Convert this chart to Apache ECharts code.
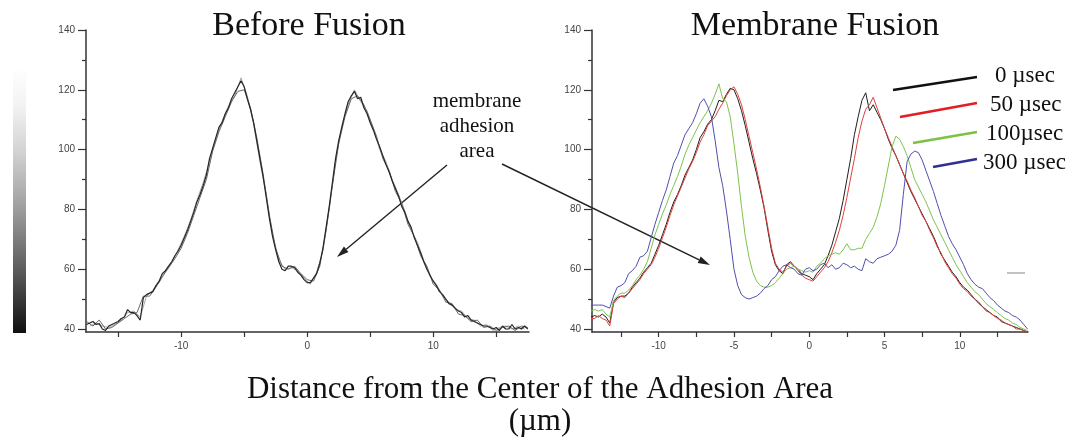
<!DOCTYPE html>
<html><head><meta charset="utf-8">
<script src="https://cdn.jsdelivr.net/npm/echarts@6/dist/echarts.min.js"></script>
<style>html,body{margin:0;padding:0;background:#fff}#c{width:1077px;height:438px}</style>
</head><body><div id="c"></div>
<script>
// ---------- DATA ----------
const titles = ['Before Fusion', 'Membrane Fusion'];
const axisTitle = 'Distance from the Center of the Adhesion Area';
const axisUnit = '(µm)';
const annotation = ['membrane', 'adhesion', 'area'];
const legendLabels = ['0 µsec', '50 µsec', '100µsec', '300 µsec'];

const yMajor = [40, 60, 80, 100, 120, 140];
const yMinor = [50, 70, 90, 110, 130];
const leftXTicks = [-15, -10, -5, 0, 5, 10, 15];
const leftXLabels = [-10, 0, 10];
const rightXTicks = [-12.5, -10, -7.5, -5, -2.5, 0, 2.5, 5, 7.5, 10, 12.5];
const rightXLabels = [-10, -5, 0, 5, 10];

// Before fusion: overlaid intensity traces
const xLeft = [-17.5,-17.25,-17,-16.75,-16.5,-16.25,-16,-15.75,-15.5,-15.25,-15,-14.75,-14.5,-14.25,-14,-13.75,-13.5,-13.25,-13,-12.75,-12.5,-12.25,-12,-11.75,-11.5,-11.25,-11,-10.75,-10.5,-10.25,-10,-9.75,-9.5,-9.25,-9,-8.75,-8.5,-8.25,-8,-7.75,-7.5,-7.25,-7,-6.75,-6.5,-6.25,-6,-5.75,-5.5,-5.25,-5,-4.75,-4.5,-4.25,-4,-3.75,-3.5,-3.25,-3,-2.75,-2.5,-2.25,-2,-1.75,-1.5,-1.25,-1,-0.75,-0.5,-0.25,0,0.25,0.5,0.75,1,1.25,1.5,1.75,2,2.25,2.5,2.75,3,3.25,3.5,3.75,4,4.25,4.5,4.75,5,5.25,5.5,5.75,6,6.25,6.5,6.75,7,7.25,7.5,7.75,8,8.25,8.5,8.75,9,9.25,9.5,9.75,10,10.25,10.5,10.75,11,11.25,11.5,11.75,12,12.25,12.5,12.75,13,13.25,13.5,13.75,14,14.25,14.5,14.75,15,15.25,15.5,15.75,16,16.25,16.5,16.75,17,17.25,17.5];
const beforeA = [41.5,42,42.5,41.5,41.8,40,39.5,41,41.5,42,
  42.5,43.5,44,46.5,45.5,45.5,44.5,43,50.5,51.5,
  52,52.5,54.5,56,58.5,59.5,61,62.5,64.5,66,
  68,70.5,73,76,79,82.5,85,88,91.5,97,
  100.5,104,107.5,109,112,114,117,119,121,123,
  121,117,113.5,109,103,97,91,84,77,71,
  66.5,62.5,60,59.5,61,61,60.5,59,58,56.5,
  55.5,55.5,57,58.5,62,67,74,81,89,97,
  103,107.5,112,116,118,119.5,117,117.5,114,112,
  109,106.5,103.5,101,98,95,92.5,89.5,87,84.5,
  81,79,76,74,70.5,68,65.5,62.5,60,58,
  56,54.5,52.5,51.5,50,48.5,48,47,46,45.5,
  44,44.5,43,42.5,42,41.5,41,41,40.5,40,
  40.5,39.5,41,40,40,41.5,40,40.5,40,41,40];

const xLeftB = [-17.5,-17,-16.5,-16,-15.5,-15,-14.5,-14,-13.5,-13,-12.5,-12,-11.5,-11,-10.5,-10,-9.5,-9,-8.5,-8,-7.5,-7,-6.5,-6,-5.5,-5,-4.5,-4,-3.5,-3,-2.5,-2,-1.5,-1,-0.5,0,0.5,1,1.5,2,2.5,3,3.5,4,4.5,5,5.5,6,6.5,7,7.5,8,8.5,9,9.5,10,10.5,11,11.5,12,12.5,13,13.5,14,14.5,15,15.5,16,16.5,17,17.5];
const beforeB = [42.5,41,43,40,40.5,42,43.5,45,45.5,51,
  51,54,57.5,60.5,63.5,67,72,78,84,90,
  99.5,106,111,116,119.5,120,114,104,92,78,
  67,61,60,61,58.5,56.5,56,61,73,88,
  102,111,117,118,115,110,104.5,97,93,86,
  82,75,71,64.5,61,55,53,49,48.5,45,
  44.5,42.5,43,40.5,41,39.5,40.5,41,39.5,41,40.5];

const xLeftC = [-17.25,-16.75,-16.25,-15.75,-15.25,-14.75,-14.25,-13.75,-13.25,-12.75,-12.25,-11.75,-11.25,-10.75,-10.25,-9.75,-9.25,-8.75,-8.25,-7.75,-7.25,-6.75,-6.25,-5.75,-5.25,-4.75,-4.25,-3.75,-3.25,-2.75,-2.25,-1.75,-1.25,-0.75,-0.25,0.25,0.75,1.25,1.75,2.25,2.75,3.25,3.75,4.25,4.75,5.25,5.75,6.25,6.75,7.25,7.75,8.25,8.75,9.25,9.75,10.25,10.75,11.25,11.75,12.25,12.75,13.25,13.75,14.25,14.75,15.25,15.75,16.25,16.75,17.25];
const beforeC = [41,42,41,40.5,41.5,43,45.5,46,44,51,
  53,55.5,59,62,66.5,71,76.5,83,89,96,
  103.5,109.5,114.5,118,124,118,108.5,96,85,71.5,
  63,60,60.5,59.5,57,55,59,66,80,96,
  108,115,120,116,113,107,100,96,90,85,
  79.5,73,69,63,57.5,55,51,49,46.5,46,
  43.5,43,41,41.5,39.5,40.5,41,40,41,40];

// Membrane fusion: traces at 0, 50, 100, 300 µsec
const xRight = [-14.5,-14.25,-14,-13.75,-13.5,-13.25,-13,-12.75,-12.5,-12.25,-12,-11.75,-11.5,-11.25,-11,-10.75,-10.5,-10.25,-10,-9.75,-9.5,-9.25,-9,-8.75,-8.5,-8.25,-8,-7.75,-7.5,-7.25,-7,-6.75,-6.5,-6.25,-6,-5.75,-5.5,-5.25,-5,-4.75,-4.5,-4.25,-4,-3.75,-3.5,-3.25,-3,-2.75,-2.5,-2.25,-2,-1.75,-1.5,-1.25,-1,-0.75,-0.5,-0.25,0,0.25,0.5,0.75,1,1.25,1.5,1.75,2,2.25,2.5,2.75,3,3.25,3.5,3.75,4,4.25,4.5,4.75,5,5.25,5.5,5.75,6,6.25,6.5,6.75,7,7.25,7.5,7.75,8,8.25,8.5,8.75,9,9.25,9.5,9.75,10,10.25,10.5,10.75,11,11.25,11.5,11.75,12,12.25,12.5,12.75,13,13.25,13.5,13.75,14,14.25,14.5];
const fusion0 = [44,44.5,44,45,44,42,49,50.5,51,51,
  52,54,55.5,57,59,60.5,62,65,68,71.5,
  75,79,82.5,85,88,91.5,94,96.5,100,104,
  106,108.5,110,113,116.5,116,118.5,120.5,120,117,
  113,108,102.5,97,92,86.5,80.5,73,66,61.5,
  59.5,58.5,61.5,62.5,61,60,58.5,58,57.5,56.5,
  58.5,60,61.5,64.5,68,72.5,77,83,90,97,
  105,111,116.5,119,113,115,112.5,110,107,103.5,
  100.5,98,95,92,89,86,83.5,81,78.5,76,
  73.5,71,68,65,63,61,59,57.5,55.5,54,
  53,51.5,50,49,47.5,46.5,45.5,44.5,44,42.5,
  42,41.5,41,40.5,40,39.5,39];
const fusion50 = [43.5,43.5,44.5,43.5,43,41,48.5,50,51,50.5,
  52,53.5,55,56.5,58.5,60,61.5,64,67,70.5,
  74,78,81.5,84.5,87.5,90.5,93.5,96,99,102.5,
  105,108,109.5,111,113.5,115.5,118,120,121,118.5,
  115,110,104.5,99,93.5,87.5,81,74,67,62,
  60,59,61,62,61,59.5,58,57,56.5,56,
  57.5,59,60.5,62.5,65.5,69,73,78,84,90.5,
  97,104,109.5,113.5,115,117.5,114,110.5,107,104,
  101,98,95,92,89.5,86.5,84,81,78,76,
  73,70.5,67.5,65.5,62.5,60.5,58.5,57,55,53.5,
  52.5,51,50,48.5,47.5,46,45.5,44.5,43.5,43,
  42,41.5,41,40,40,39.5,39];
const fusion100 = [46,46.5,46,46.5,45,44,49.5,51,52,52,
  53,54.5,56.5,58,60,62.5,67,71.5,75,78.5,
  81.5,85,88,91,94.5,98.5,101.5,104,106.5,109,
  111,113,115.5,118.5,122,117,116,111,102,92,
  81,71,64,59,56,54.5,54,54,54.5,55.5,
  57,58.5,60,60.5,61,60,59.5,59,59.5,59,
  61,62,63.5,64.5,65,65.5,65,66.5,68.5,66.5,
  66.5,67,67,70,72,74,77.5,82,88,94.5,
  101,104.5,103.5,101,98,94,90,87.5,85,82.5,
  79.5,76.5,74,71.5,69,66.5,64,61.5,59.5,57.5,
  55.5,54,52.5,51.5,50,48.5,47.5,46.5,45.5,44.5,
  43.5,43,42,41.5,40.5,40,39.5];
const fusion300 = [48,48,48,48,47.5,47,51,54,54.5,55.5,
  58.5,59.5,61,64,64.5,66,70.5,75,79,83,
  86.5,91,95.5,98,101.5,105,107,109,112,115.5,
  117,114.5,111,103,94,88,79.5,70,60,54.5,
  51.5,50.5,50,50.5,51,52,53.5,54.5,56.5,57.5,
  59.5,61,61.5,60.5,60,58.5,58,60,60.5,59.5,
  60,61.5,62,60.5,61.5,60,60.5,62,61.5,60.5,
  61,60,59.5,63.5,62.5,62,63.5,64,64.5,65,
  66,68,73,85,96,98.5,99.5,99,96.5,93,
  89.5,86,82,78,74.5,71,68.5,66.5,64,61.5,
  58.5,56.5,55,54,53.5,52,50.5,49.5,48,47,
  46,45.5,44.5,44,43,41.5,40];

// ---------- CHART ----------
const pairs = (xs, ys) => xs.map((x, i) => [x, ys[i]]);
const AX = '#333';
const labelFont = { fontSize: 10, color: '#444', fontFamily: '"Liberation Sans", Arial, sans-serif' };

function xAxis(grid, min, max, ticks, labels) {
  return {
    type: 'value', gridIndex: grid, min, max, position: 'bottom',
    axisLine: { onZero: false, lineStyle: { color: AX, width: 1.5 } },
    axisTick: { show: true, inside: false, length: 5, customValues: ticks, lineStyle: { color: AX, width: 1.2 } },
    axisLabel: Object.assign({ customValues: labels, margin: 9 }, labelFont),
    splitLine: { show: false }
  };
}
function yAxisMajor(grid) {
  return {
    type: 'value', gridIndex: grid, min: 39, max: 140, position: 'left',
    axisLine: { onZero: false, lineStyle: { color: AX, width: 1.5 } },
    axisTick: { show: true, inside: false, length: 8, customValues: yMajor, lineStyle: { color: AX, width: 1.2 } },
    axisLabel: Object.assign({ customValues: yMajor, margin: 11 }, labelFont),
    splitLine: { show: false }
  };
}
function yAxisMinor(grid) {
  return {
    type: 'value', gridIndex: grid, min: 39, max: 140, position: 'left', offset: 0,
    axisLine: { show: false, onZero: false },
    axisTick: { show: true, inside: false, length: 4, customValues: yMinor, lineStyle: { color: AX, width: 1.2 } },
    axisLabel: { show: false },
    splitLine: { show: false }
  };
}
function line(name, xs, ys, xi, yi, color, width) {
  return { name, type: 'line', xAxisIndex: xi, yAxisIndex: yi, data: pairs(xs, ys),
    symbol: 'none', clip: true, lineStyle: { color, width }, itemStyle: { color }, silent: true };
}

const serif = '"Liberation Serif", "Times New Roman", serif';
function txt(text, x, y, size, align) {
  return { type: 'text', silent: true, style: { text, x, y, fill: '#111', font: size + 'px ' + serif,
    textAlign: align || 'center', textVerticalAlign: 'middle', align: align || 'center', verticalAlign: 'middle' } };
}
function arrow(x1, y1, x2, y2) {
  const dx = x2 - x1, dy = y2 - y1, L = Math.hypot(dx, dy), ux = dx / L, uy = dy / L;
  const hl = 12, hw = 3.5, bx = x2 - ux * hl, by = y2 - uy * hl;
  return [
    { type: 'line', silent: true, shape: { x1, y1, x2: bx, y2: by }, style: { stroke: '#222', lineWidth: 1.4 } },
    { type: 'polygon', silent: true, shape: { points: [[x2, y2], [bx - uy * hw, by + ux * hw], [bx + uy * hw, by - ux * hw]] }, style: { fill: '#222' } }
  ];
}
function legLine(x1, y1, x2, y2, color) {
  return { type: 'line', silent: true, shape: { x1, y1, x2, y2 }, style: { stroke: color, lineWidth: 2.6 } };
}

const fusionColors = ['#1e1e1e', '#e2403a', '#7ec24c', '#4f4fae'];
const legendColors = ['#111111', '#e51c23', '#7cc242', '#2e3192'];

const graphic = [
  { type: 'rect', silent: true, shape: { x: 13, y: 67, width: 13, height: 266 },
    style: { fill: { type: 'linear', x: 0, y: 0, x2: 0, y2: 1, colorStops: [
      { offset: 0, color: '#ffffff' }, { offset: 0.15, color: '#f2f2f2' }, { offset: 0.32, color: '#d2d2d2' },
      { offset: 0.54, color: '#9c9c9c' }, { offset: 0.77, color: '#5a5a5a' }, { offset: 1, color: '#101010' }] } } },
  txt(titles[0], 309, 26, 34),
  txt(titles[1], 815, 26, 34),
  txt(annotation[0], 477, 101, 21),
  txt(annotation[1], 477, 126, 21),
  txt(annotation[2], 477, 151, 21),
  ...arrow(447, 165, 337, 257),
  ...arrow(502, 164, 710, 265),
  legLine(893, 90, 977, 77, legendColors[0]),
  legLine(900, 117, 977, 103, legendColors[1]),
  legLine(913, 143, 977, 132, legendColors[2]),
  legLine(933, 167, 977, 159, legendColors[3]),
  txt(legendLabels[0], 995, 76, 23, 'left'),
  txt(legendLabels[1], 990, 105, 23, 'left'),
  txt(legendLabels[2], 986, 134, 23, 'left'),
  txt(legendLabels[3], 983, 163, 23, 'left'),
  { type: 'line', silent: true, shape: { x1: 1007, y1: 273, x2: 1025, y2: 273 }, style: { stroke: '#9a9a9a', lineWidth: 1.2 } },
  txt(axisTitle, 540, 390, 31),
  txt(axisUnit, 540, 422, 31)
];

const chart = echarts.init(document.getElementById('c'), null, { renderer: 'canvas' });
chart.setOption({
  animation: false,
  backgroundColor: '#ffffff',
  grid: [
    { left: 86, top: 30, width: 443, height: 302 },
    { left: 592, top: 30, width: 436, height: 302 }
  ],
  xAxis: [
    xAxis(0, -17.55, 17.6, leftXTicks, leftXLabels),
    xAxis(1, -14.43, 14.53, rightXTicks, rightXLabels)
  ],
  yAxis: [yAxisMajor(0), yAxisMinor(0), yAxisMajor(1), yAxisMinor(1)],
  series: [
    line('before C', xLeftC, beforeC, 0, 0, '#a8a8a8', 1),
    line('before B', xLeftB, beforeB, 0, 0, '#6a6a6a', 1),
    line('before A', xLeft, beforeA, 0, 0, '#262626', 1.2),
    line(legendLabels[0], xRight, fusion0, 1, 2, fusionColors[0], 1),
    line(legendLabels[1], xRight, fusion50, 1, 2, fusionColors[1], 1),
    line(legendLabels[2], xRight, fusion100, 1, 2, fusionColors[2], 1),
    line(legendLabels[3], xRight, fusion300, 1, 2, fusionColors[3], 1)
  ],
  graphic: { elements: graphic }
});
</script>
</body></html>
